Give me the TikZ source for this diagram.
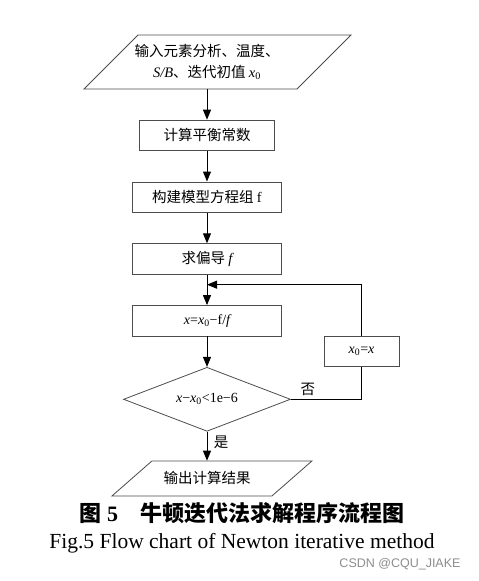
\documentclass[tikz,border=0pt]{standalone}
\usepackage{fontspec}
\setmainfont{Liberation Serif}
\newfontfamily\cjk{Noto Sans CJK SC}
\newfontfamily\wmfont{Liberation Sans}
\usetikzlibrary{positioning,arrows.meta,shapes.geometric,calc}
\newcommand{\vx}[1]{{\rmfamily\itshape #1}}

\begin{document}
\begin{tikzpicture}[
  x=1pt, y=-1pt,
  node distance=30.5pt,
  box/.style={draw=black!70, line width=0.8pt, minimum width=149pt, minimum height=30.5pt,
              inner sep=0pt, align=center, font=\fontsize{14.5}{17}\selectfont\cjk},
  io/.style={inner sep=0pt, align=center, font=\fontsize{14.5}{21}\selectfont\cjk},
  para/.style={draw=black!70, line width=0.8pt},
  dec/.style={diamond, aspect=2.6, draw=black!70, line width=0.8pt, minimum width=167pt,
              minimum height=64pt, inner sep=0pt, font=\fontsize{14}{16}\selectfont},
  lbl/.style={font=\fontsize{14.5}{17}\selectfont\cjk},
  arr/.style={-{Triangle[length=10pt,width=8pt]}, line width=1pt}
]
\useasboundingbox (0,0) rectangle (479,581);

% ===== main column =====
\node[io, minimum height=54pt] (in) at (207,62)
  {输入元素分析、温度、\\ \vx{S/B}、迭代初值 \vx{x}{\rmfamily\textsubscript{0}}};
\draw[para] ([shift={(-69,-27)}]in.center) -- ([shift={(144,-27)}]in.center)
  -- ([shift={(90,27)}]in.center) -- ([shift={(-123,27)}]in.center) -- cycle;
\node[box, minimum width=135pt, below=of in] (eq)   {计算平衡常数};
\node[box, below=of eq]                       (sys)  {构建模型方程组 {\rmfamily f}};
\node[box, below=of sys]                      (der)  {求偏导 \vx{f}};
\node[box, below=of der, font=\fontsize{14}{16}\selectfont\rmfamily]
                                              (newt) {\vx{x}=\vx{x}\textsubscript{0}−f/\vx{f}};
\node[dec, below=of newt]                     (chk)  {\vx{x}−\vx{x}\textsubscript{0}<1e−6};
\node[io, minimum height=35pt, below=29pt of chk] (out) {输出计算结果};
\draw[para] ([shift={(-55,-17.5)}]out.center) -- ([shift={(105,-17.5)}]out.center)
  -- ([shift={(65,17.5)}]out.center) -- ([shift={(-95,17.5)}]out.center) -- cycle;

% ===== loop back =====
\node[box, minimum width=75pt, font=\fontsize{14}{16}\selectfont\rmfamily] (upd) at (361.5,351.5)
  {\vx{x}\textsubscript{0}=\vx{x}};
\coordinate (join) at ($(der.south)!0.33!(newt.north)$);

\draw[arr] (in) -- (eq);
\draw[arr] (eq) -- (sys);
\draw[arr] (sys) -- (der);
\draw[arr] (der) -- (newt);
\draw[arr] (newt) -- (chk);
\draw[arr] (chk) -- node[lbl, pos=0.36, right=3pt] {是} (out);
\draw[line width=1pt] (chk.east) -| node[lbl, pos=0.12, above] {否} (upd.south);
\draw[arr] (upd.north) |- (join);

% ===== caption =====
\node[font=\fontsize{22}{25}\selectfont\cjk\bfseries] (cap) at (242,513)
  {图 {\rmfamily\bfseries 5}\hspace{1em}牛顿迭代法求解程序流程图};
\node[font=\fontsize{21.5}{25}\selectfont] (capen) at (242,543)
  {Fig.5 Flow chart of Newton iterative method};
\node[font=\fontsize{12.5}{14}\selectfont\wmfont, text=black!45] (wm) at (400,564) {CSDN @CQU\_JIAKE};

\end{tikzpicture}
\end{document}
